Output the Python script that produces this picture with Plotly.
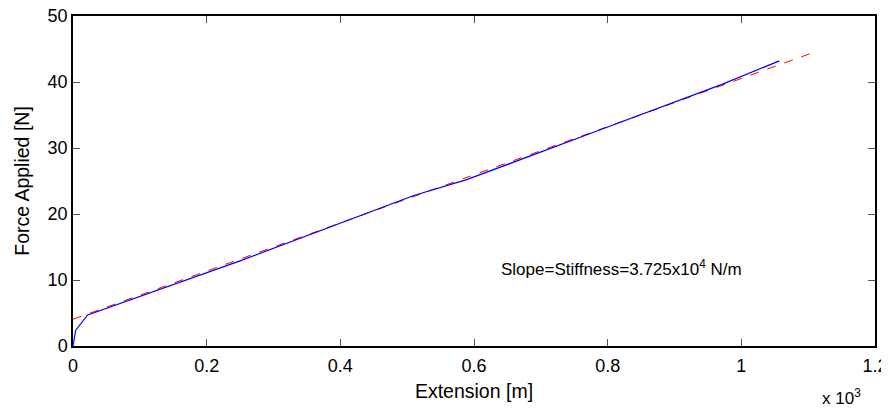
import plotly.graph_objects as go

# Measured data (extension in units of 1e-3 m, force in N)
ext_measured = [0, 0.004, 0.022, 0.25, 0.51, 0.589, 0.79, 0.97, 1.057]
force_measured = [0, 2.4, 4.7, 12.9, 22.8, 25.2, 32.8, 39.6, 43.2]

# Linear fit line
ext_fit = [0, 1.106]
force_fit = [4.05, 44.4]

x_ticks = [0, 0.2, 0.4, 0.6, 0.8, 1.0, 1.2]
x_tick_labels = ["0", "0.2", "0.4", "0.6", "0.8", "1", "1.2"]
y_ticks = [0, 10, 20, 30, 40, 50]

font = "Liberation Sans, Arial, Helvetica, sans-serif"

fig = go.Figure()
fig.add_trace(go.Scatter(x=ext_fit, y=force_fit, mode="lines",
                         line=dict(color="#ff0000", width=1, dash="dash"),
                         showlegend=False))
fig.add_trace(go.Scatter(x=ext_measured, y=force_measured, mode="lines",
                         line=dict(color="#0000ff", width=1.2),
                         showlegend=False))

axis_common = dict(showline=True, linecolor="black", linewidth=1.5, mirror="ticks",
                   ticks="inside", ticklen=7, tickcolor="#555555", tickwidth=1,
                   showgrid=False, zeroline=False, automargin=False,
                   ticklabeloverflow="allow",
                   tickfont=dict(family=font, size=18, color="black"))

fig.update_xaxes(range=[0, 1.2], tickvals=x_ticks, ticktext=x_tick_labels,
                 ticklabelstandoff=3,
                 title=dict(text="Extension [m]", font=dict(family=font, size=19.5, color="black"),
                            standoff=9),
                 **axis_common)
fig.update_yaxes(range=[0, 50], tickvals=y_ticks,
                 title=dict(text="Force Applied [N]", font=dict(family=font, size=19.5, color="black"),
                            standoff=13),
                 **axis_common)

fig.add_annotation(x=0.637, y=11.8, xref="x", yref="y", xanchor="left", yanchor="middle",
                   text="Slope=Stiffness=3.725x10<sup>4</sup> N/m", showarrow=False,
                   font=dict(family=font, size=17, color="black"))
fig.add_annotation(x=1.182, y=-0.155, xref="x", yref="paper", xanchor="right", yanchor="middle",
                   text="x 10<sup>3</sup>", showarrow=False,
                   font=dict(family=font, size=17, color="black"))

# The page adds an 8px body margin, so the figure is sized and offset to compensate
fig.update_layout(width=881, height=405, plot_bgcolor="white", paper_bgcolor="white",
                  margin=dict(l=65, r=14, t=8, b=67))

fig.write_html("out.html")
